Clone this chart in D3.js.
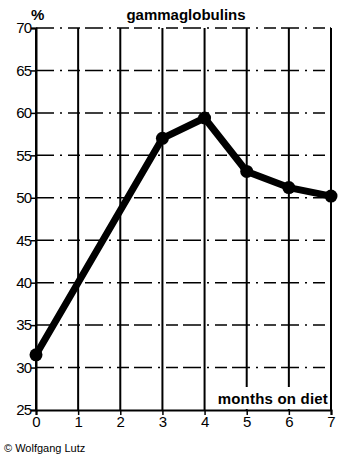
<!DOCTYPE html>
<html>
<head>
<meta charset="utf-8">
<script src="https://cdn.jsdelivr.net/npm/d3@7"></script>
<style>
  body { margin: 0; background: #fff; }
  text { font-family: "Liberation Sans", Arial, sans-serif; fill: #000; }
</style>
</head>
<body>
<div id="chart"></div>
<script>
var svgWidth = 344;
var svgHeight = 455;

var margin = { top: 28, right: 13, bottom: 45, left: 36 };
var chartWidth = svgWidth - margin.left - margin.right;
var chartHeight = svgHeight - margin.top - margin.bottom;

// data
var months = [0, 3, 4, 5, 6, 7];
var gammaValues = [31.5, 57.0, 59.4, 53.1, 51.2, 50.2];
var xTicks = [0, 1, 2, 3, 4, 5, 6, 7];
var yTicks = [25, 30, 35, 40, 45, 50, 55, 60, 65, 70];

var svg = d3.select("#chart")
  .append("svg")
  .attr("width", svgWidth)
  .attr("height", svgHeight);

var g = svg.append("g")
  .attr("transform", `translate(${margin.left}, ${margin.top})`);

var x = d3.scaleLinear().domain([0, 7]).range([0, chartWidth]);
var y = d3.scaleLinear().domain([25, 70]).range([chartHeight, 0]);

// horizontal grid (broken, dash-dot look)
g.selectAll(".hgrid")
  .data(yTicks.filter(d => d > 25))
  .enter()
  .append("line")
  .attr("x1", 0).attr("x2", chartWidth)
  .attr("y1", d => y(d)).attr("y2", d => y(d))
  .attr("stroke", "#000")
  .attr("stroke-width", 1.5)
  .attr("stroke-dasharray", "18,6,2,6,12,5");

// vertical grid
g.selectAll(".vgrid")
  .data(xTicks)
  .enter()
  .append("line")
  .attr("x1", d => x(d)).attr("x2", d => x(d))
  .attr("y1", 0).attr("y2", chartHeight)
  .attr("stroke", "#000")
  .attr("stroke-width", 2);

// axes
var bottomAxis = d3.axisBottom(x).tickValues(xTicks).tickFormat(d3.format("d"))
  .tickSize(5).tickPadding(1);
var leftAxis = d3.axisLeft(y).tickValues(yTicks).tickSize(5).tickPadding(0);

var xAxisG = g.append("g")
  .attr("transform", `translate(0, ${chartHeight})`)
  .call(bottomAxis);
xAxisG.select(".domain").attr("stroke-width", 2);
xAxisG.selectAll(".tick line").attr("stroke-width", 1.5);
xAxisG.selectAll("text")
  .style("font-size", "15px")
  .style("font-family", "'Liberation Sans', Arial, sans-serif");

var yAxisG = g.append("g").call(leftAxis);
yAxisG.select(".domain").attr("stroke-width", 2);
yAxisG.selectAll(".tick line").attr("stroke-width", 1.5);
yAxisG.selectAll("text")
  .style("font-size", "15px")
  .style("letter-spacing", "-1px")
  .style("font-family", "'Liberation Sans', Arial, sans-serif");

// label box
g.append("rect")
  .attr("x", x(4) + 2)
  .attr("y", chartHeight - 23)
  .attr("width", x(7) - x(4) - 3)
  .attr("height", 22)
  .attr("fill", "#fff");

g.append("text")
  .attr("x", x(7) - 3)
  .attr("y", chartHeight - 6)
  .attr("text-anchor", "end")
  .style("font-size", "15px")
  .style("font-weight", "bold")
  .style("letter-spacing", "0.2px")
  .text("months on diet");

// data line
var line = d3.line()
  .x((d, i) => x(months[i]))
  .y(d => y(d));

g.append("path")
  .datum(gammaValues)
  .attr("d", line)
  .attr("fill", "none")
  .attr("stroke", "#000")
  .attr("stroke-width", 7)
  .attr("stroke-linejoin", "round");

g.selectAll(".dot")
  .data(gammaValues)
  .enter()
  .append("circle")
  .attr("cx", (d, i) => x(months[i]))
  .attr("cy", d => y(d))
  .attr("r", 6.5)
  .attr("fill", "#000");

// titles
svg.append("text")
  .attr("x", 31)
  .attr("y", 20)
  .style("font-size", "15px")
  .style("font-weight", "bold")
  .text("%");

svg.append("text")
  .attr("x", 186)
  .attr("y", 20)
  .attr("text-anchor", "middle")
  .style("font-size", "15px")
  .style("font-weight", "bold")
  .text("gammaglobulins");

svg.append("text")
  .attr("x", 4)
  .attr("y", 452)
  .style("font-size", "11px")
  .text("© Wolfgang Lutz");
</script>
</body>
</html>
